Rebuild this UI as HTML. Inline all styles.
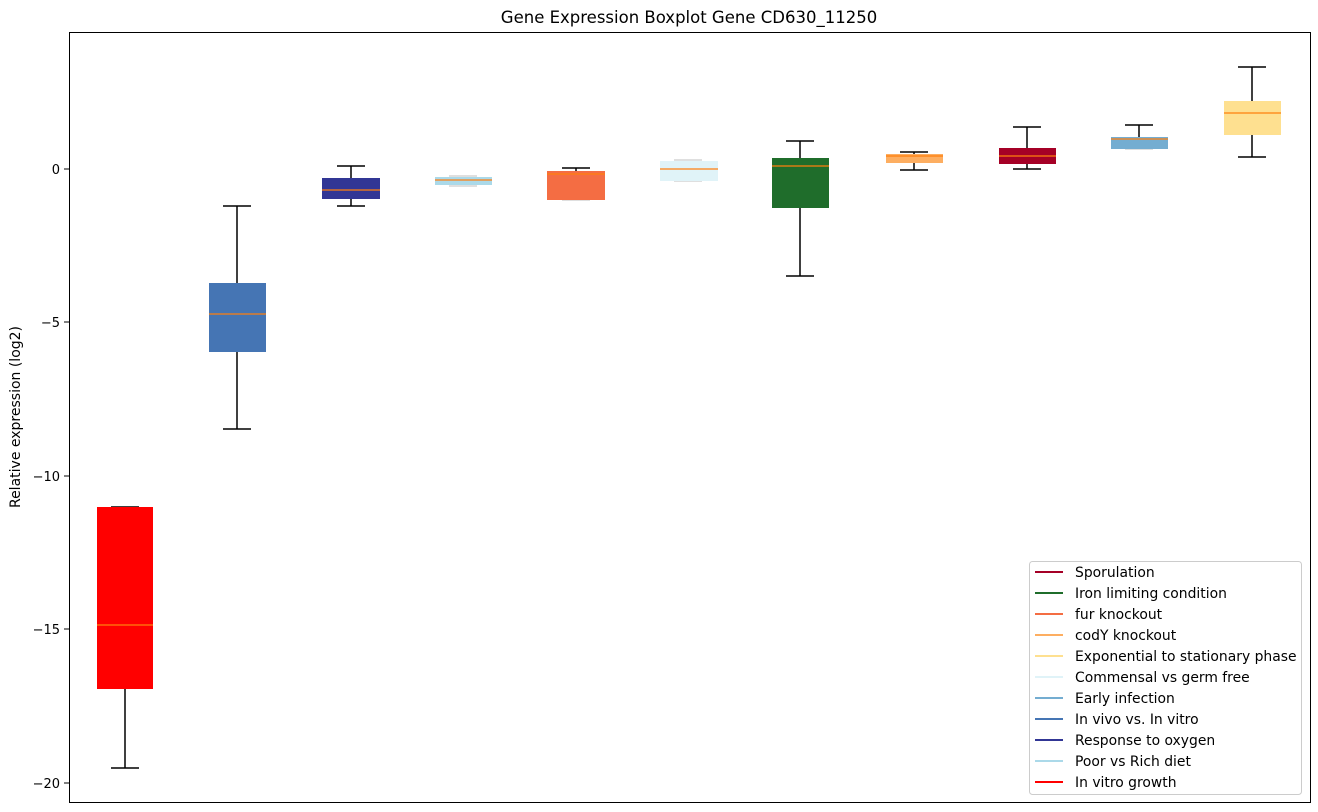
<!DOCTYPE html>
<html><head><meta charset="utf-8"><style>body{margin:0;background:#fff}svg{display:block;font-family:"DejaVu Sans","Liberation Sans",sans-serif}</style></head><body>
<svg width="1318" height="812" xmlns="http://www.w3.org/2000/svg">
<rect width="1318" height="812" fill="#fff"/>
<text x="689" y="23" font-size="16.5" text-anchor="middle">Gene Expression Boxplot Gene CD630_11250</text>
<text transform="translate(20,417) rotate(-90)" font-size="14" text-anchor="middle">Relative expression (log2)</text>
<g font-size="13" text-anchor="end">
<text x="60" y="174">0</text><text x="60" y="327">−5</text><text x="60" y="481">−10</text><text x="60" y="634">−15</text><text x="60" y="788">−20</text>
</g>
<g stroke="#000" stroke-width="1"><line x1="64" y1="169" x2="69" y2="169"/><line x1="64" y1="322" x2="69" y2="322"/><line x1="64" y1="476" x2="69" y2="476"/><line x1="64" y1="629" x2="69" y2="629"/><line x1="64" y1="783" x2="69" y2="783"/></g>
<g stroke="#000" stroke-width="1.5" fill="none">
<line x1="125" y1="689" x2="125" y2="768"/><line x1="111" y1="768" x2="139" y2="768"/><line x1="111" y1="507" x2="139" y2="507"/>
<line x1="237" y1="206" x2="237" y2="283"/><line x1="237" y1="352" x2="237" y2="429"/><line x1="223" y1="206" x2="251" y2="206"/><line x1="223" y1="429" x2="251" y2="429"/>
<line x1="351" y1="166" x2="351" y2="206"/><line x1="337" y1="166" x2="365" y2="166"/><line x1="337" y1="206" x2="365" y2="206"/>
<line x1="576" y1="168" x2="576" y2="171"/><line x1="562" y1="168" x2="590" y2="168"/>
<line x1="800" y1="141" x2="800" y2="276"/><line x1="786" y1="141" x2="814" y2="141"/><line x1="786" y1="276" x2="814" y2="276"/>
<line x1="914" y1="152" x2="914" y2="170"/><line x1="900" y1="152" x2="928" y2="152"/><line x1="900" y1="170" x2="928" y2="170"/>
<line x1="1027" y1="127" x2="1027" y2="169"/><line x1="1013" y1="127" x2="1041" y2="127"/><line x1="1013" y1="169" x2="1041" y2="169"/>
<line x1="1139" y1="125" x2="1139" y2="137"/><line x1="1125" y1="125" x2="1153" y2="125"/>
<line x1="1252" y1="67" x2="1252" y2="157"/><line x1="1238" y1="67" x2="1266" y2="67"/><line x1="1238" y1="157" x2="1266" y2="157"/>
</g>
<g stroke="#ccc" stroke-width="1.3"><line x1="449" y1="176" x2="477" y2="176"/><line x1="449" y1="186" x2="477" y2="186"/><line x1="562" y1="200" x2="590" y2="200"/><line x1="674" y1="160" x2="702" y2="160"/><line x1="674" y1="181" x2="702" y2="181"/><line x1="1125" y1="149" x2="1153" y2="149"/></g>
<g>
<rect x="97" y="507" width="56" height="182" fill="#ff0000"/>
<rect x="209" y="283" width="57" height="69" fill="#4575b4"/>
<rect x="322" y="178" width="58" height="21" fill="#313695"/>
<rect x="435" y="177" width="57" height="8" fill="#abd9e9"/>
<rect x="547" y="171" width="58" height="29" fill="#f46d43"/>
<rect x="660" y="161" width="58" height="20" fill="#e0f3f8"/>
<rect x="772" y="158" width="57" height="50" fill="#1f6d2b"/>
<rect x="886" y="154" width="57" height="9" fill="#fdae61"/>
<rect x="999" y="148" width="57" height="16" fill="#a50026"/>
<rect x="1111" y="137" width="57" height="12" fill="#74add1"/>
<rect x="1224" y="101" width="57" height="34" fill="#fee090"/>
</g>
<g stroke="#ff7f0e" stroke-width="1.3">
<line x1="97" y1="625" x2="153" y2="625"/><line x1="209" y1="314" x2="266" y2="314"/><line x1="322" y1="190" x2="380" y2="190"/><line x1="435" y1="180" x2="492" y2="180"/><line x1="547" y1="174" x2="605" y2="174"/><line x1="660" y1="169" x2="718" y2="169"/><line x1="772" y1="166" x2="829" y2="166"/><line x1="886" y1="156" x2="943" y2="156"/><line x1="999" y1="156" x2="1056" y2="156"/><line x1="1111" y1="139" x2="1168" y2="139"/><line x1="1224" y1="113" x2="1281" y2="113"/>
</g>
<rect x="69.5" y="32.5" width="1241" height="770" fill="none" stroke="#000" stroke-width="1"/>
<rect x="1029.5" y="561.5" width="272" height="233" rx="3" fill="#fff" stroke="#ccc"/>
<g font-size="13.9" stroke-width="2">
<line x1="1035" y1="572" x2="1063" y2="572" stroke="#a50026"/><text x="1075" y="577">Sporulation</text>
<line x1="1035" y1="593" x2="1063" y2="593" stroke="#1f6d2b"/><text x="1075" y="598">Iron limiting condition</text>
<line x1="1035" y1="614" x2="1063" y2="614" stroke="#f46d43"/><text x="1075" y="619">fur knockout</text>
<line x1="1035" y1="635" x2="1063" y2="635" stroke="#fdae61"/><text x="1075" y="640">codY knockout</text>
<line x1="1035" y1="656" x2="1063" y2="656" stroke="#fee090"/><text x="1075" y="661">Exponential to stationary phase</text>
<line x1="1035" y1="677" x2="1063" y2="677" stroke="#e0f3f8"/><text x="1075" y="682">Commensal vs germ free</text>
<line x1="1035" y1="698" x2="1063" y2="698" stroke="#74add1"/><text x="1075" y="703">Early infection</text>
<line x1="1035" y1="719" x2="1063" y2="719" stroke="#4575b4"/><text x="1075" y="724">In vivo vs. In vitro</text>
<line x1="1035" y1="740" x2="1063" y2="740" stroke="#313695"/><text x="1075" y="745">Response to oxygen</text>
<line x1="1035" y1="761" x2="1063" y2="761" stroke="#abd9e9"/><text x="1075" y="766">Poor vs Rich diet</text>
<line x1="1035" y1="782" x2="1063" y2="782" stroke="#ff0000"/><text x="1075" y="787">In vitro growth</text>
</g>
</svg>
</body></html>
